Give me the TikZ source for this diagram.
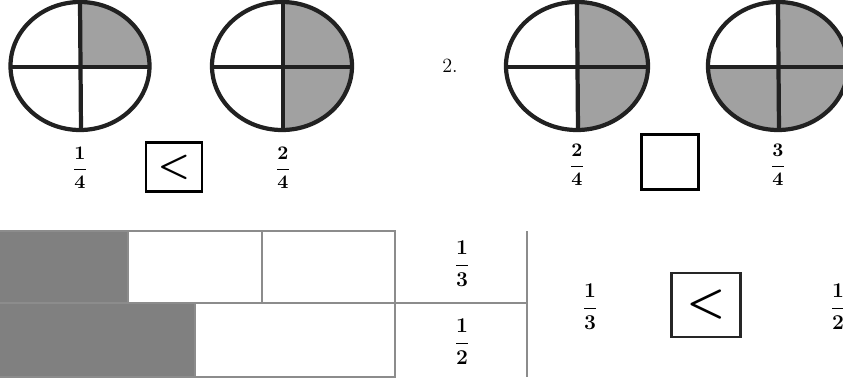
\documentclass[tikz,border=0pt]{standalone}
\usepackage{tikz}
\usetikzlibrary{calc}

\begin{document}
\begin{tikzpicture}[x=0.02cm,y=-0.02cm]
        \tikzstyle {rim} = [draw=black!87, line width=2.4pt]
        \tikzstyle {part} = [fill=black!37]
        \tikzstyle {fraction} = [inner sep=0pt, font=\fontsize{10.5}{12}\selectfont\boldmath]
        \tikzstyle {fraction_big} = [inner sep=0pt, font=\fontsize{11.5}{13}\selectfont\boldmath]
        \tikzstyle {answer} = [draw=black, line width=1.6pt, minimum width=1.12cm, minimum height=0.98cm, inner sep=0pt, font=\fontsize{21}{24}\selectfont\boldmath]
        \tikzstyle {answer_big} = [draw=black!85, line width=1.3pt, minimum width=1.38cm, minimum height=1.28cm, inner sep=0pt, font=\fontsize{24}{28}\selectfont\boldmath]
        \tikzstyle {bar} = [draw=black!45, line width=1.1pt]
        \tikzstyle {bar_fill} = [fill=black!50]
        \useasboundingbox (0,0) rectangle (843,383);
        % exercise 1
        \fill[part] (80,66) -- (80,2) arc[start angle=-90, end angle=0, x radius=69.5, y radius=64] -- cycle;
        \draw[rim] (80,66) ellipse[x radius=69.5, y radius=64];
        \draw[rim] (10.5,67) -- (149.5,67);
        \draw[rim] (80,2) -- (81,130);
        \fill[part] (282,66) -- (282,2) arc[start angle=-90, end angle=90, x radius=70, y radius=64] -- cycle;
        \draw[rim] (282,66) ellipse[x radius=70, y radius=64];
        \draw[rim] (212,67) -- (352,67);
        \draw[rim] (283,2) -- (283,130);
        \node (frac_a) [fraction] at (80,168) {$\displaystyle\frac{1}{4}$};
        \node (cmp_a) [answer] at (174,167) {$<$};
        \node (frac_b) [fraction] at (283,168) {$\displaystyle\frac{2}{4}$};
        % exercise 2
        \node (num_two) [font=\fontsize{11.5}{13}\selectfont] at (450,66) {2.};
        \fill[part] (577,66) -- (577,2) arc[start angle=-90, end angle=90, x radius=71, y radius=64] -- cycle;
        \draw[rim] (577,66) ellipse[x radius=71, y radius=64];
        \draw[rim] (506,67) -- (648,67);
        \draw[rim] (577,2) -- (578,130);
        \fill[part] (778,66) -- (778,2) arc[start angle=-90, end angle=180, x radius=70, y radius=64] -- cycle;
        \draw[rim] (778,66) ellipse[x radius=70, y radius=64];
        \draw[rim] (708,67) -- (848,67);
        \draw[rim] (778,2) -- (779,130);
        \node (frac_c) [fraction] at (577,165) {$\displaystyle\frac{2}{4}$};
        \node (cmp_b) [answer, minimum width=1.14cm, minimum height=1.1cm] at (670,162) {};
        \node (frac_d) [fraction] at (778,165) {$\displaystyle\frac{3}{4}$};
        % fraction bars
        \fill[bar_fill] (-4,231) rectangle (128,303);
        \fill[bar_fill] (-4,303) rectangle (195,377);
        \draw[bar] (-4,231) rectangle (395,377);
        \draw[bar] (128,231) -- (128,303);
        \draw[bar] (262,231) -- (262,303);
        \draw[bar] (195,303) -- (195,377);
        \draw[bar] (-4,303) -- (527,303);
        \draw[bar] (527,231) -- (527,377);
        \node (frac_third) [fraction_big] at (462,264) {$\displaystyle\frac{1\rule[-3pt]{0pt}{0pt}}{\rule{0pt}{9pt}3}$};
        \node (frac_half) [fraction_big] at (462,342) {$\displaystyle\frac{1\rule[-3pt]{0pt}{0pt}}{\rule{0pt}{9pt}2}$};
        \node (frac_e) [fraction_big] at (590,307) {$\displaystyle\frac{1\rule[-3pt]{0pt}{0pt}}{\rule{0pt}{9pt}3}$};
        \node (cmp_c) [answer_big] at (706,305) {$<$};
        \node (frac_f) [fraction_big] at (838,307) {$\displaystyle\frac{1\rule[-3pt]{0pt}{0pt}}{\rule{0pt}{9pt}2}$};
\end{tikzpicture}
\end{document}
